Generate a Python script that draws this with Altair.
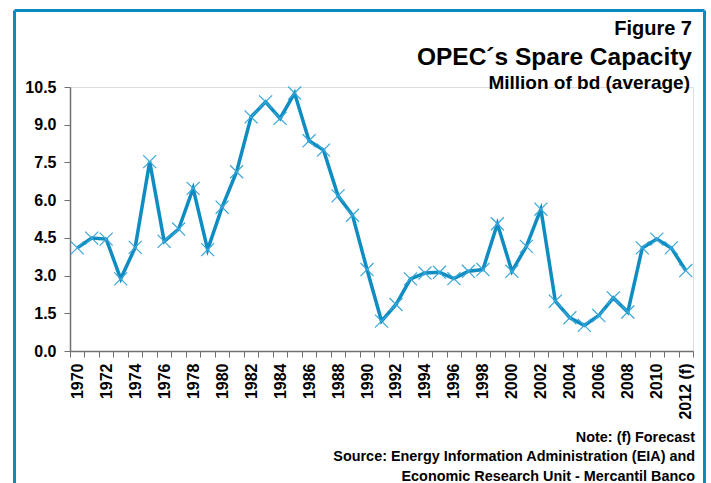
import altair as alt
import pandas as pd

years = list(range(1970, 2013))
spare = [4.10, 4.49, 4.45, 2.87, 4.12, 7.53, 4.36, 4.85, 6.47, 4.03,
         5.72, 7.13, 9.31, 9.91, 9.25, 10.26, 8.36, 7.99, 6.17, 5.40,
         3.24, 1.19, 1.85, 2.87, 3.10, 3.13, 2.88, 3.17, 3.24, 5.06,
         3.17, 4.16, 5.64, 1.98, 1.32, 1.02, 1.41, 2.11, 1.55, 4.10,
         4.45, 4.10, 3.20]
y_ticks = [0, 1.5, 3.0, 4.5, 6.0, 7.5, 9.0, 10.5]

title_lines = ["Figure 7", "OPEC\u00b4s Spare Capacity", "Million of bd (average)"]
note_lines = ["Note: (f) Forecast",
              "Source: Energy Information Administration (EIA) and",
              "Economic Research Unit - Mercantil Banco"]

df = pd.DataFrame({"year": years, "value": spare})

FONT = "Liberation Sans, Arial, Helvetica, sans-serif"
LINE_COLOR = "#0f8dc3"
MARK_COLOR = "#3aa7d9"
FRAME_COLOR = "#0a8bc0"

W, H = 623, 264
OX, OY = 70, 87

xenc = alt.X(
    "year:O",
    bandPosition=0.5,
    scale=alt.Scale(type="band", paddingInner=0, paddingOuter=0),
    axis=alt.Axis(
        title=None,
        tickBand="extent",
        tickSize=6,
        tickColor="#707070",
        domainColor="#707070",
        domainWidth=1.5,
        labelAngle=270,
        labelPadding=6,
        labelFont=FONT,
        labelFontWeight="bold",
        labelFontSize=16,
        labelColor="black",
        labelOverlap=False,
        labelExpr="datum.value == 2012 ? '2012 (f)' : (datum.value % 2 == 0 ? datum.label : '')",
    ),
)
yenc = alt.Y(
    "value:Q",
    scale=alt.Scale(domain=[0, 10.5], nice=False, zero=True),
    axis=alt.Axis(
        title=None,
        values=y_ticks,
        format=".1f",
        grid=False,
        tickSize=6,
        tickColor="#707070",
        domainColor="#707070",
        domainWidth=1.5,
        labelPadding=8,
        labelFont=FONT,
        labelFontWeight="bold",
        labelFontSize=16,
        labelColor="black",
    ),
)

line = alt.Chart(df).mark_line(color=LINE_COLOR, strokeWidth=3.5).encode(x=xenc, y=yenc)
pts = alt.Chart(df).mark_point(
    shape="M-1,-1L1,1M-1,1L1,-1", filled=False, color=MARK_COLOR,
    strokeWidth=1.2, size=170, opacity=1
).encode(x=xenc, y=yenc)


def txt(s, x, y, size):
    return alt.Chart(pd.DataFrame({"t": [s]})).mark_text(
        align="right", baseline="alphabetic", font=FONT, fontWeight="bold",
        fontSize=size, color="black"
    ).encode(text="t:N", x=alt.value(x), y=alt.value(y))


one = pd.DataFrame({"a": [0]})


def rule(x, x2, y, y2):
    return alt.Chart(one).mark_rule(color=FRAME_COLOR, strokeWidth=3).encode(
        x=alt.value(x), x2=alt.value(x2), y=alt.value(y), y2=alt.value(y2)
    )


fl, ft, fr = 14.5 - OX, 10.5 - OY, 704.5 - OX
frame = [
    rule(fl, fl, ft, 500),
    rule(fl, fr, ft, ft),
    rule(fr, fr, ft, 500),
]

texts = [
    txt(title_lines[0], 692 - OX, 35 - OY, 20),
    txt(title_lines[1], 692 - OX, 65 - OY, 24.5),
    txt(title_lines[2], 690 - OX, 89 - OY, 19),
    txt(note_lines[0], 695 - OX, 442 - OY, 14.4),
    txt(note_lines[1], 695 - OX, 461 - OY, 14.4),
    txt(note_lines[2], 695 - OX, 481 - OY, 14.4),
]

chart = alt.layer(line, pts, *frame, *texts).properties(
    width=W,
    height=H,
    padding={"left": OX, "top": OY, "right": 711 - OX - W, "bottom": 483 - OY - H},
    autosize=alt.AutoSizeParams(type="none"),
).configure_view(stroke=None).configure(background="white")

chart.save("out.html", embed_options={"renderer": "svg", "actions": False})
